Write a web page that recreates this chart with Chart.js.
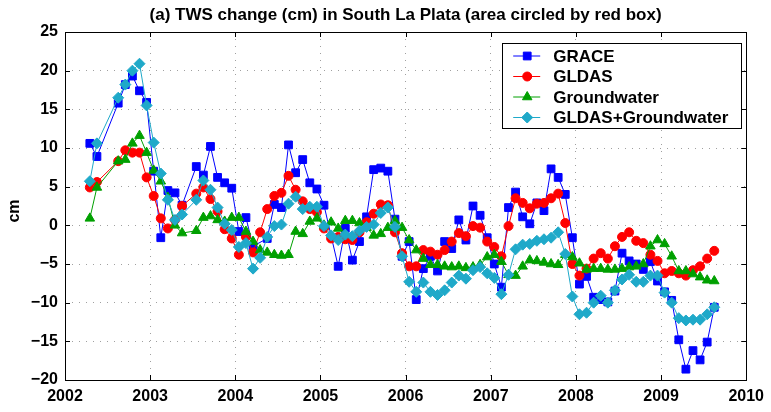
<!DOCTYPE html>
<html>
<head>
<meta charset="utf-8">
<script src="https://cdn.jsdelivr.net/npm/chart.js@4.4.0/dist/chart.umd.min.js"></script>
<style>
    html, body { margin: 0; padding: 0; background: #fff; }
</style>
</head>
<body>
<canvas id="twsChart" width="771" height="412"></canvas>
<script>
// Monthly epochs (months with no data are left out)
const months = [
    '2002-04', '2002-05', '2002-08', '2002-09', '2002-10', '2002-11', '2002-12',
    '2003-01', '2003-02', '2003-03', '2003-04', '2003-05', '2003-07', '2003-08', '2003-09', '2003-10', '2003-11', '2003-12',
    '2004-01', '2004-02', '2004-03', '2004-04', '2004-05', '2004-06', '2004-07', '2004-08', '2004-09', '2004-10', '2004-11', '2004-12',
    '2005-01', '2005-02', '2005-03', '2005-04', '2005-05', '2005-06', '2005-07', '2005-08', '2005-09', '2005-10', '2005-11', '2005-12',
    '2006-01', '2006-02', '2006-03', '2006-04', '2006-05', '2006-06', '2006-07', '2006-08', '2006-09', '2006-10', '2006-11', '2006-12',
    '2007-01', '2007-02', '2007-03', '2007-04', '2007-05', '2007-06', '2007-07', '2007-08', '2007-09', '2007-10', '2007-11', '2007-12',
    '2008-01', '2008-02', '2008-03', '2008-04', '2008-05', '2008-06', '2008-07', '2008-08', '2008-09', '2008-10', '2008-11', '2008-12',
    '2009-01', '2009-02', '2009-03', '2009-04', '2009-05', '2009-06', '2009-07', '2009-08'
];

const grace = [
    10.6, 8.9, 15.8, 18.2, 19.3, 17.4, 15.9,
    7.0, -1.6, 4.5, 4.2, 2.6, 7.6, 6.5, 10.2, 6.2, 5.5, 4.8,
    -0.8, 1.0, -2.7, null, -1.7, 2.7, 2.3, 10.4, 6.8, 8.5, 5.5, 4.7,
    2.6, null, -5.3, -0.4, -4.5, -2.1, 1.1, 7.2, 7.4, 7.0, 0.8, -4.0,
    -2.1, -9.6, -5.6, -4.0, -5.9, -2.1, -3.0, 0.7, -1.9, 2.5, 1.3, -1.6,
    -5.0, -8.0, 2.3, 4.3, 1.1, 0.2, 2.9, 1.9, 7.3, 6.2, 4.0, -1.6,
    -7.6, -6.6, -9.3, -9.6, -9.9, -8.5, -3.6, -4.6, -5.0, -5.7, -4.7, -7.2,
    -8.6, -9.7, -14.8, -18.6, -16.2, -17.4, -15.1, -10.6
];

const gldas = [
    4.9, 5.6, 8.3, 9.7, 9.4, 9.4, 6.2,
    3.8, 0.9, -0.4, 0.7, 2.5, 4.1, 4.9, 3.4, 1.8, -0.5, -1.7,
    -3.8, -1.5, -3.5, -0.9, 2.1, 3.8, 4.2, 6.4, 4.6, 3.1, 2.1, 1.7,
    -0.4, -1.7, -1.5, -1.8, -1.9, -0.9, 0.4, 1.5, 2.7, 2.6, -0.9, -3.6,
    -5.3, -5.3, -3.2, -3.4, -3.8, -3.2, -2.1, -1.0, -1.4, -0.1, -0.3, -2.1,
    -2.8, -4.0, -0.1, 3.5, 2.9, 2.2, 2.8, 2.9, 3.5, 4.1, 0.3, -5.0,
    -6.5, -5.6, -4.3, -3.6, -4.3, -2.7, -1.5, -0.9, -2.0, -2.3, -3.8, -4.6,
    -6.2, -5.9, -6.2, -6.5, -5.8, -5.3, -4.3, -3.3
];

const groundwater = [
    0.9, 4.9, 8.3, 8.5, 10.6, 11.6, 9.4,
    7.1, 5.7, 3.6, 0.0, -1.0, -0.7, 1.0, 1.2, 0.7, 0.5, 1.0,
    1.0, -0.8, -2.1, -3.2, -3.5, -3.8, -3.9, -3.8, -0.8, -1.1, 0.5, 0.9,
    0.0, 0.4, -0.4, 0.6, 0.6, 0.3, -0.3, -1.3, -1.1, -0.3, 0.6, -0.3,
    -1.9, -3.2, -4.3, -5.1, -5.1, -5.3, -5.4, -5.3, -5.5, -5.4, -5.1, -4.1,
    -3.8, -4.7, -6.4, -6.5, -5.3, -4.5, -4.6, -4.8, -5.0, -5.1, -3.8, -4.1,
    -4.9, -5.7, -5.6, -5.6, -5.7, -5.7, -5.6, -5.4, -5.3, -5.0, -2.7, -1.9,
    -2.4, -4.0, -5.9, -5.9, -6.3, -6.7, -7.1, -7.2
];

const gldasPlusGw = [
    5.7, 10.6, 16.5, 18.2, 20.0, 20.9, 15.5,
    10.7, 6.7, 3.3, 0.7, 1.4, 3.3, 5.8, 4.6, 2.3, 0.2, -0.6,
    -2.8, -2.3, -5.6, -4.2, -1.5, -0.1, 0.1, 2.8, 3.7, 2.1, 2.4, 2.4,
    -0.1, -1.3, -1.9, -1.2, -1.4, -0.7, -0.2, 0.1, 1.6, 2.3, -0.2, -4.0,
    -7.3, -8.6, -7.4, -8.6, -9.0, -8.4, -7.4, -6.5, -6.9, -5.8, -5.4, -6.2,
    -6.8, -8.9, -6.4, -3.1, -2.5, -2.4, -2.0, -1.8, -1.6, -0.9, -3.7, -9.2,
    -11.5, -11.3, -10.0, -9.1, -10.0, -8.4, -7.0, -6.4, -7.3, -7.3, -6.5, -6.5,
    -8.7, -10.0, -12.0, -12.3, -12.2, -12.2, -11.5, -10.6
];

const yearTicks = [2002, 2003, 2004, 2005, 2006, 2007, 2008, 2009, 2010];
const valueTicks = [-20, -15, -10, -5, 0, 5, 10, 15, 20, 25];

const FONT = "'Liberation Sans', Arial, Helvetica, sans-serif";

// month string -> decimal year at mid-month
function toYear(m) {
    const parts = m.split('-');
    return parseInt(parts[0]) + (parseInt(parts[1]) - 0.5) / 12;
}

function pairs(values) {
    return months.map(function (m, i) {
        return { x: toYear(m), y: values[i] };
    });
}

function series(label, values, color, pointStyle, radius, order) {
    return {
        label: label,
        data: pairs(values),
        borderColor: color,
        backgroundColor: color,
        pointBackgroundColor: color,
        pointBorderColor: color,
        borderWidth: 1,
        pointStyle: pointStyle,
        pointRadius: radius,
        pointBorderWidth: 1,
        spanGaps: true,
        tension: 0,
        order: order
    };
}

// Box round the plot with inward tick marks (MATLAB style)
const boxPlugin = {
    id: 'boxPlugin',
    afterDatasetsDraw(chart) {
        const ctx = chart.ctx;
        const a = chart.chartArea;
        const xs = chart.scales.x;
        const ys = chart.scales.y;
        const len = 5;
        ctx.save();
        ctx.strokeStyle = '#000';
        ctx.lineWidth = 1;
        ctx.setLineDash([]);
        ctx.beginPath();
        yearTicks.forEach(function (t) {
            const px = Math.round(xs.getPixelForValue(t)) + 0.5;
            ctx.moveTo(px, a.bottom); ctx.lineTo(px, a.bottom - len);
            ctx.moveTo(px, a.top); ctx.lineTo(px, a.top + len);
        });
        valueTicks.forEach(function (t) {
            const py = Math.round(ys.getPixelForValue(t)) + 0.5;
            ctx.moveTo(a.left, py); ctx.lineTo(a.left + len, py);
            ctx.moveTo(a.right, py); ctx.lineTo(a.right - len, py);
        });
        ctx.stroke();
        ctx.strokeRect(Math.round(a.left) + 0.5, Math.round(a.top) + 0.5,
            Math.round(a.right - a.left), Math.round(a.bottom - a.top));
        ctx.restore();
    }
};

// Title, y label and the boxed legend
const textPlugin = {
    id: 'textPlugin',
    afterDraw(chart) {
        const ctx = chart.ctx;
        const a = chart.chartArea;
        ctx.save();
        ctx.fillStyle = '#000';
        ctx.font = 'bold 17px ' + FONT;
        ctx.textAlign = 'center';
        ctx.textBaseline = 'middle';
        ctx.fillText('(a) TWS change (cm) in South La Plata (area circled by red box)', (a.left + a.right) / 2, 15);

        ctx.save();
        ctx.font = 'bold 16px ' + FONT;
        ctx.translate(15, (a.top + a.bottom) / 2 + 5);
        ctx.rotate(-Math.PI / 2);
        ctx.fillText('cm', 0, 0);
        ctx.restore();

        // legend
        const lx = a.right - 244, ly = a.top + 11, lw = 239, lh = 85;
        ctx.fillStyle = '#fff';
        ctx.fillRect(lx, ly, lw, lh);
        ctx.strokeStyle = '#000';
        ctx.lineWidth = 1;
        ctx.strokeRect(Math.round(lx) + 0.5, Math.round(ly) + 0.5, lw, lh);

        ctx.textAlign = 'left';
        ctx.font = 'bold 17px ' + FONT;
        chart.data.datasets.forEach(function (ds, i) {
            const cy = ly + 13 + i * 20.5;
            ctx.strokeStyle = ds.borderColor;
            ctx.fillStyle = ds.borderColor;
            ctx.lineWidth = 1;
            ctx.beginPath();
            ctx.moveTo(lx + 11, cy);
            ctx.lineTo(lx + 38, cy);
            ctx.stroke();
            Chart.helpers.drawPoint(ctx, {
                pointStyle: ds.pointStyle,
                radius: ds.pointRadius,
                rotation: 0,
                borderWidth: 1
            }, lx + 25, cy);
            ctx.fillStyle = '#000';
            ctx.fillText(ds.label, lx + 51, cy + 1);
        });
        ctx.restore();
    }
};

const ctx = document.getElementById('twsChart').getContext('2d');

new Chart(ctx, {
    type: 'line',
    data: {
        datasets: [
            series('GRACE', grace, '#0000ff', 'rect', 5.5, 3),
            series('GLDAS', gldas, '#ff0000', 'circle', 4.5, 2),
            series('Groundwater', groundwater, '#00a000', 'triangle', 5.5, 1),
            series('GLDAS+Groundwater', gldasPlusGw, '#1fa9c9', 'rectRot', 5.5, 0)
        ]
    },
    options: {
        responsive: false,
        animation: false,
        events: [],
        layout: {
            padding: { top: 32, right: 24, bottom: 0, left: 0 }
        },
        plugins: {
            legend: { display: false },
            title: { display: false },
            tooltip: { enabled: false }
        },
        scales: {
            x: {
                type: 'linear',
                min: 2002,
                max: 2010,
                afterFit: function (scale) { scale.height = 32; },
                afterBuildTicks: function (scale) {
                    scale.ticks = yearTicks.map(function (v) { return { value: v }; });
                },
                ticks: {
                    color: '#000',
                    padding: 7,
                    maxRotation: 0,
                    font: { family: FONT, size: 16, weight: 'bold' },
                    callback: function (value) { return String(value); }
                },
                grid: { color: '#a0a0a0', lineWidth: 1, drawTicks: false },
                border: { display: false, dash: [1, 6] }
            },
            y: {
                type: 'linear',
                min: -20,
                max: 25,
                afterFit: function (scale) { scale.width = 65; },
                afterBuildTicks: function (scale) {
                    scale.ticks = valueTicks.map(function (v) { return { value: v }; });
                },
                ticks: {
                    color: '#000',
                    padding: 7,
                    font: { family: FONT, size: 16, weight: 'bold' },
                    callback: function (value) {
                        return value < 0 ? '\u2212' + Math.abs(value) : String(value);
                    }
                },
                grid: { color: '#a0a0a0', lineWidth: 1, drawTicks: false },
                border: { display: false, dash: [1, 6] }
            }
        }
    },
    plugins: [boxPlugin, textPlugin]
});
</script>
</body>
</html>
